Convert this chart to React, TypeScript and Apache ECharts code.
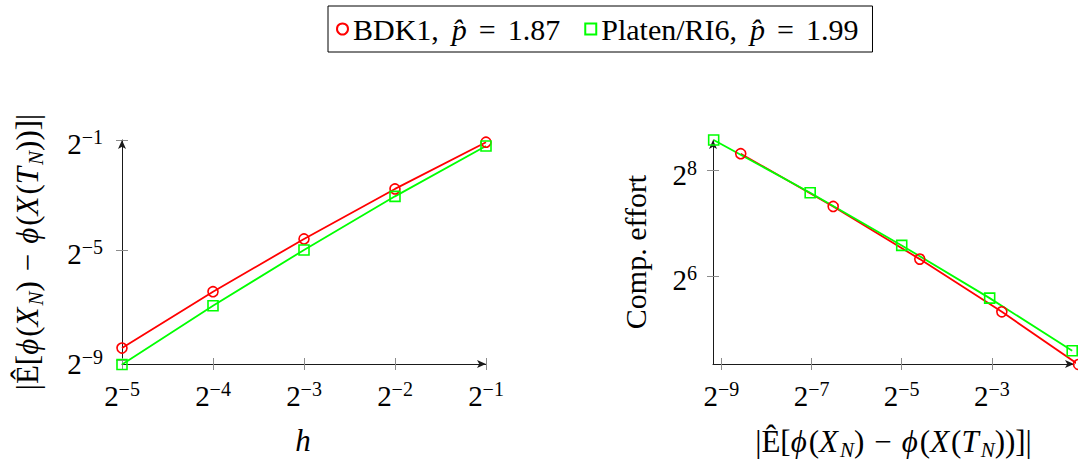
import React, { useEffect, useRef } from 'react';
import * as echarts from 'echarts';

// ---- data (log2 of the plotted quantities) ----
const hLog2 = [-5, -4, -3, -2, -1];
const bdk1ErrLog2 = [-8.57, -6.52, -4.6, -2.78, -1.08];
const platenErrLog2 = [-9.17, -7.03, -5.0, -3.05, -1.22];
const bdk1EffortLog2 = [8.32, 7.32, 6.32, 5.32, 4.32];
const platenEffortLog2 = [8.58, 7.58, 6.58, 5.58, 4.58];
const seriesNames = ['BDK1', 'Platen/RI6'];
const pHatValues = ['1.87', '1.99'];
const leftXTicks = [-5, -4, -3, -2, -1];
const leftYTicks = [-9, -5, -1];
const rightXTicks = [-9, -7, -5, -3];
const rightYTicks = [6, 8];

const FONT = 'serif';
const RED = '#ff0000';
const GREEN = '#00ff00';
const AXIS = '#1a1a1a';
const TICK = '#8c8c8c';

const powRich = {
  b: { fontSize: 29, fontFamily: FONT, lineHeight: 34, color: '#000' },
  e: { fontSize: 20, fontFamily: FONT, lineHeight: 20, verticalAlign: 'top', color: '#000' },
};
const powFmt = (v: number) => `{b|2}{e|${v < 0 ? '\u2212' : ''}${Math.abs(v)}}`;

const exprRich = {
  n: { fontSize: 31, fontFamily: FONT, lineHeight: 38, color: '#000' },
  i: { fontSize: 31, fontFamily: FONT, lineHeight: 38, fontStyle: 'italic', color: '#000', padding: [0, 2, 0, 0] },
  s: { fontSize: 21, fontFamily: FONT, lineHeight: 20, fontStyle: 'italic', verticalAlign: 'bottom', color: '#000' },
  m: { fontSize: 31, fontFamily: FONT, lineHeight: 38, color: '#000', padding: [0, 10, 0, 10] },
};
const errExpr =
  '{n||\u00CA[}{i|\u03D5}{n|(}{i|X}{s|N}{n|)}{m|\u2212}{i|\u03D5}{n|(}{i|X}{n|(}{i|T}{s|N}{n|))]|}';

const legendRich = {
  n: { fontSize: 30, fontFamily: FONT, lineHeight: 34, color: '#000' },
  i: { fontSize: 30, fontFamily: FONT, lineHeight: 34, fontStyle: 'italic', color: '#000', padding: [0, 0, 0, 13] },
  eq: { fontSize: 30, fontFamily: FONT, lineHeight: 34, color: '#000', padding: [0, 12, 0, 12] },
};

function mainAxis(extra: any) {
  return {
    type: 'value',
    splitLine: { show: false },
    axisLine: {
      show: true,
      onZero: false,
      symbol: ['none', 'arrow'],
      symbolSize: [6, 9],
      lineStyle: { color: AXIS, width: 1 },
    },
    axisTick: { show: true, length: 6, lineStyle: { color: TICK, width: 1 } },
    axisLabel: { show: true, formatter: powFmt, rich: powRich, color: '#000', fontFamily: FONT, fontSize: 29 },
    ...extra,
  };
}
function dupAxis(extra: any, ticks: number[]) {
  return {
    type: 'value',
    splitLine: { show: false },
    axisLine: { show: false, onZero: false },
    axisTick: { show: true, inside: true, length: 6, customValues: ticks, lineStyle: { color: TICK, width: 1 } },
    axisLabel: { show: false },
    ...extra,
  };
}

export default function App() {
  const ref = useRef<HTMLDivElement>(null);
  useEffect(() => {
    if (!ref.current) return;
    const chart = echarts.init(ref.current, undefined, { renderer: 'svg' });
    const g0 = { left: 122, top: 140, width: 364, height: 224 };
    const g1 = { left: 713, top: 140, width: 361, height: 224 };
    const leftX = { min: -5, max: -1 };
    const leftY = { min: -9.15, max: -1 };
    const rightX = { min: -9.185, max: -1.18 };
    const rightY = { min: 4.33, max: 8.58 };

    const mk = (name: string, color: string, symbol: string, xi: number, data: number[][]) => ({
      type: 'line',
      name,
      xAxisIndex: xi,
      yAxisIndex: xi,
      data,
      symbol,
      symbolSize: 10,
      clip: false,
      itemStyle: { color: 'rgba(255,255,255,0)', borderColor: color, borderWidth: 1.6 },
      lineStyle: { color, width: 1.8 },
      emphasis: { disabled: true },
    });

    const lblStyle = { fontFamily: FONT, fontSize: 29, color: '#000' };

    chart.setOption({
      animation: false,
      grid: [g0, g1, { ...g0 }, { ...g1 }],
      legend: {
        left: 328,
        top: 6,
        orient: 'horizontal',
        padding: [8, 14, 8, 8],
        itemGap: 24,
        itemWidth: 11,
        itemHeight: 11,
        borderColor: '#000',
        borderWidth: 1,
        selectedMode: false,
        data: [
          { name: seriesNames[0], icon: 'circle', itemStyle: { color: '#fff', borderColor: RED, borderWidth: 2 } },
          { name: seriesNames[1], icon: 'rect', itemStyle: { color: '#fff', borderColor: GREEN, borderWidth: 2 } },
        ],
        formatter: (name: string) => {
          const idx = seriesNames.indexOf(name);
          return `{n|${name},}{i|p\u0302}{eq|=}{n|${pHatValues[idx]}}`;
        },
        textStyle: { fontFamily: FONT, fontSize: 30, color: '#000', rich: legendRich },
      },
      xAxis: [
        mainAxis({
          gridIndex: 0,
          ...leftX,
          axisTick: { show: true, length: 6, customValues: leftXTicks, lineStyle: { color: TICK, width: 1 } },
          axisLabel: { show: true, customValues: leftXTicks, formatter: powFmt, rich: powRich, margin: 15, ...lblStyle },
          name: '{i|h}',
          nameLocation: 'middle',
          nameGap: 57,
          nameTextStyle: { ...lblStyle, rich: exprRich },
        }),
        mainAxis({
          gridIndex: 1,
          ...rightX,
          axisTick: { show: true, length: 6, customValues: rightXTicks, lineStyle: { color: TICK, width: 1 } },
          axisLabel: { show: true, customValues: rightXTicks, formatter: powFmt, rich: powRich, margin: 15, ...lblStyle },
          name: errExpr,
          nameLocation: 'middle',
          nameGap: 58,
          nameTextStyle: { ...lblStyle, rich: exprRich },
        }),
        dupAxis({ gridIndex: 2, ...leftX }, leftXTicks),
        dupAxis({ gridIndex: 3, ...rightX }, rightXTicks),
      ],
      yAxis: [
        mainAxis({
          gridIndex: 0,
          ...leftY,
          axisTick: { show: true, length: 6, customValues: leftYTicks, lineStyle: { color: TICK, width: 1 } },
          axisLabel: { show: true, customValues: leftYTicks, formatter: powFmt, rich: powRich, margin: 19, padding: [8, 0, 0, 0], ...lblStyle },
          name: errExpr,
          nameLocation: 'middle',
          nameRotate: 90,
          nameGap: 76,
          nameTextStyle: { ...lblStyle, rich: exprRich },
        }),
        mainAxis({
          gridIndex: 1,
          ...rightY,
          axisTick: { show: true, length: 6, customValues: rightYTicks, lineStyle: { color: TICK, width: 1 } },
          axisLabel: { show: true, customValues: rightYTicks, formatter: powFmt, rich: powRich, margin: 16, padding: [8, 0, 0, 0], ...lblStyle },
          name: 'Comp. effort',
          nameLocation: 'middle',
          nameRotate: 90,
          nameGap: 63,
          nameTextStyle: { fontFamily: FONT, fontSize: 30, color: '#000' },
        }),
        dupAxis({ gridIndex: 2, ...leftY }, leftYTicks),
        dupAxis({ gridIndex: 3, ...rightY }, rightYTicks),
      ],
      series: [
        mk(seriesNames[0], RED, 'circle', 0, hLog2.map((x, i) => [x, bdk1ErrLog2[i]])),
        mk(seriesNames[1], GREEN, 'rect', 0, hLog2.map((x, i) => [x, platenErrLog2[i]])),
        mk(seriesNames[0], RED, 'circle', 1, bdk1ErrLog2.map((x, i) => [x, bdk1EffortLog2[i]])),
        mk(seriesNames[1], GREEN, 'rect', 1, platenErrLog2.map((x, i) => [x, platenEffortLog2[i]])),
      ],
    });
    return () => chart.dispose();
  }, []);
  return <div ref={ref} style={{ position: 'absolute', left: 0, top: 0, width: 1078, height: 463 }} />;
}
